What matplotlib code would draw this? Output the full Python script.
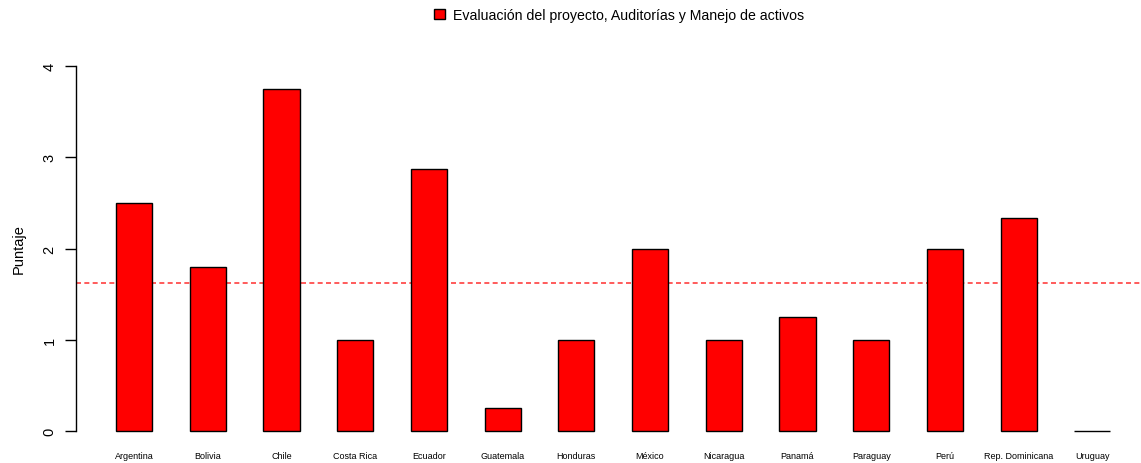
import matplotlib.pyplot as plt
import numpy as np

plt.rcParams['font.family'] = ['Liberation Sans', 'DejaVu Sans']

paises = ["Argentina", "Bolivia", "Chile", "Costa Rica", "Ecuador", "Guatemala",
          "Honduras", "México", "Nicaragua", "Panamá", "Paraguay", "Perú",
          "Rep. Dominicana", "Uruguay"]
puntaje = [2.5, 1.8, 3.75, 1.0, 2.875, 0.25, 1.0, 2.0, 1.0, 1.25, 1.0, 2.0, 2.333, 0.0]
yticks = [0, 1, 2, 3, 4]
leyenda = "Evaluación del proyecto, Auditorías y Manejo de activos"

fig = plt.figure(figsize=(11.41, 4.64), dpi=100)
ax = fig.add_axes([76 / 1141, 0.0375, 1 - 76 / 1141, 0.887 - 0.0375])

x = np.arange(len(paises))
ax.axhline(np.mean(puntaje), color='#ff4040', ls=(0, (3, 2)), lw=1.2, zorder=1)
ax.bar(x, puntaje, width=0.49, color='#ff0000', edgecolor='black', lw=1,
       zorder=2, label=leyenda)

ax.set_xlim(-0.787, 13.66)
ax.set_ylim(-0.16, 4.16)
for s in ['top', 'right', 'bottom']:
    ax.spines[s].set_visible(False)
ax.spines['left'].set_bounds(0, 4)
ax.spines['left'].set_linewidth(1)

ax.set_yticks(yticks)
ax.set_yticklabels([str(t) for t in yticks], rotation=90, va='center', fontsize=10.5)
ax.tick_params(axis='y', direction='out', length=8, width=1, pad=6)
ax.set_xticks(x)
ax.set_xticklabels(paises, fontsize=6.5)
ax.tick_params(axis='x', length=0, pad=4)
ax.set_ylabel("Puntaje", fontsize=10.5, labelpad=12)

fig.legend(loc='center', bbox_to_anchor=(619 / 1141, 1 - 16 / 464), frameon=False,
           fontsize=10.2, handlelength=0.8, handleheight=0.8, handletextpad=0.6)

fig.savefig("out.png", dpi=100)
